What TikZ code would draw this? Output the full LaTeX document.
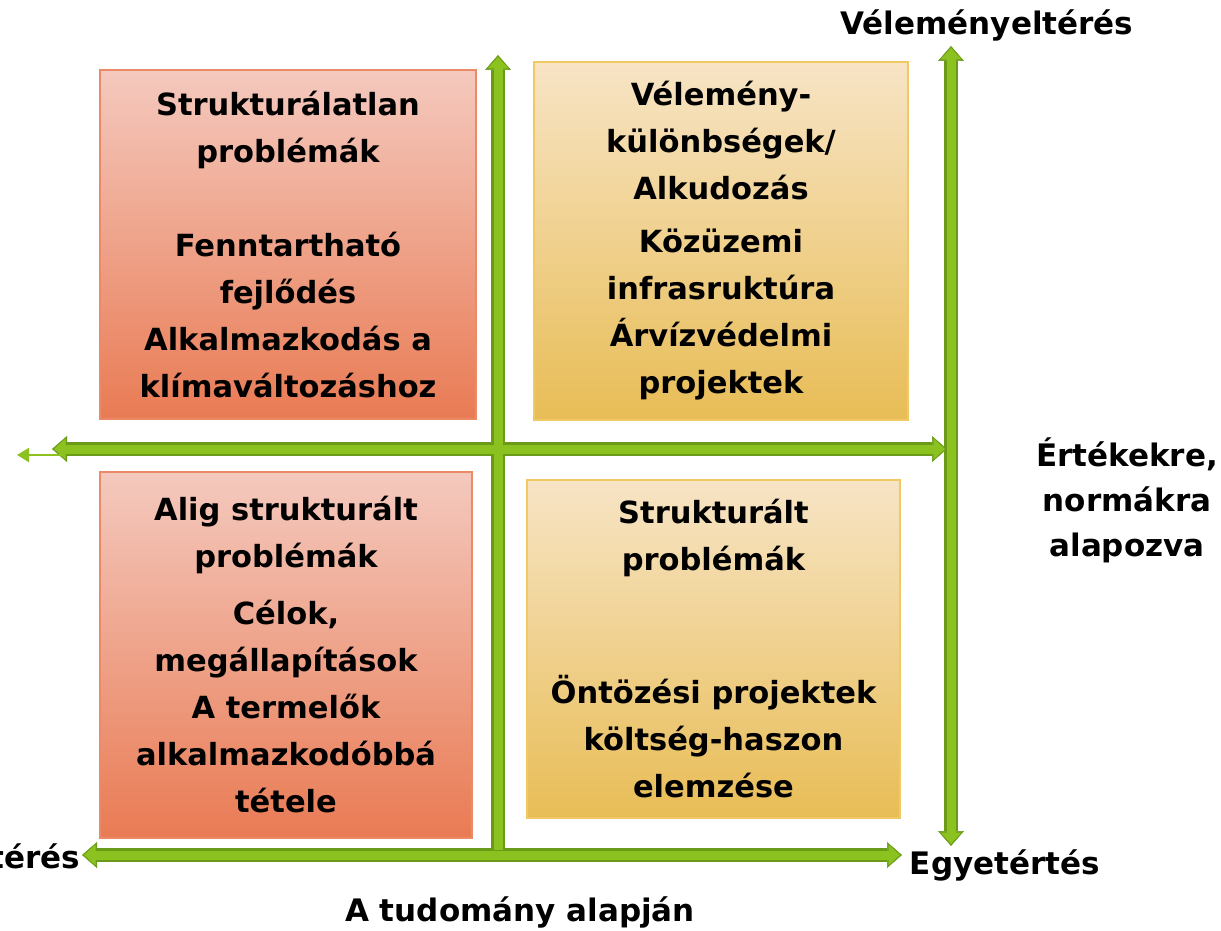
\documentclass[tikz,border=0pt]{standalone}
\usepackage{fontspec}
\setmainfont{DejaVu Sans}
\usetikzlibrary{arrows.meta}
\definecolor{redtop}{HTML}{F4C9BE}
\definecolor{redbot}{HTML}{E97B54}
\definecolor{redborder}{HTML}{EB8A66}
\definecolor{yeltop}{HTML}{F7E4C5}
\definecolor{yelbot}{HTML}{E8BD56}
\definecolor{yelborder}{HTML}{F0C963}
\definecolor{axisgreen}{HTML}{8CC21F}
\definecolor{axisdark}{HTML}{6A9A17}
\tikzset{
  box/.style={rectangle, draw=#1border, line width=1.2pt, top color=#1top, bottom color=#1bot,
    align=center, inner sep=0pt, font=\fontsize{30.5}{47}\selectfont\bfseries},
  lbl/.style={align=center, inner sep=0pt, font=\fontsize{31}{45}\selectfont\bfseries},
  tipout/.tip={Triangle[width=26pt,length=15pt,line width=0.5pt]},
  tipin/.tip={Triangle[width=20.5pt,length=11.5pt,line width=0.5pt]},
  axisdark line/.style={draw=axisdark, line width=14pt},
  axisgreen line/.style={draw=axisgreen, line width=9pt, shorten >=2pt, shorten <=2pt}
}
\begin{document}
\begin{tikzpicture}[x=1pt,y=-1pt]
  \useasboundingbox (0,0) rectangle (1221,931);
  \node[box=red, minimum width=376pt, minimum height=349pt] (tl) at (288,244.5)
    {Strukturálatlan\\problémák\\[47pt]Fenntartható\\fejlődés\\Alkalmazkodás a\\klímaváltozáshoz};
  \node[box=yel, minimum width=374pt, minimum height=358pt] (tr) at (721,241)
    {Vélemény-\\különbségek/\\Alkudozás\\[6pt]Közüzemi\\infrasruktúra\\Árvízvédelmi\\projektek};
  \node[box=red, minimum width=372pt, minimum height=366pt] (bl) at (286,655)
    {Alig strukturált\\problémák\\[10pt]Célok,\\megállapítások\\A termelők\\alkalmazkodóbbá\\tétele};
  \node[box=yel, minimum width=373pt, minimum height=338pt] (br) at (713.5,649)
    {Strukturált\\problémák\\[86pt]Öntözési projektek\\költség-haszon\\elemzése};

  \coordinate (ctop) at (498,55);
  \coordinate (cbot) at (498,852);
  \coordinate (mleft) at (52,449);
  \coordinate (mright) at (947,449);
  \coordinate (rtop) at (951,46);
  \coordinate (rbot) at (951,846);
  \coordinate (bleft) at (82,855);
  \coordinate (bright) at (902,855);
  \coordinate (thinstart) at (62,455);
  \coordinate (thin) at (17,455);

  \draw[axisdark line, -{tipout}] (cbot) -- (ctop);
  \draw[axisdark line, {tipout}-{tipout}] (mleft) -- (mright);
  \draw[axisdark line, {tipout}-{tipout}] (rtop) -- (rbot);
  \draw[axisdark line, {tipout}-{tipout}] (bleft) -- (bright);
  \draw[axisgreen line, -{tipin}] (cbot) -- (ctop);
  \draw[axisgreen line, {tipin}-{tipin}] (mleft) -- (mright);
  \draw[axisgreen line, {tipin}-{tipin}] (rtop) -- (rbot);
  \draw[axisgreen line, {tipin}-{tipin}] (bleft) -- (bright);
  \draw[axisgreen, line width=2pt, -{Triangle[width=14pt,length=12pt]}] (thinstart) -- (thin);

  \node[lbl] (vel) at (987,25) {Véleményeltérés};
  \node[lbl] (ert) at (1127,500) {Értékekre,\\normákra\\alapozva};
  \node[lbl, anchor=east] (ter) at (80,856) {térés};
  \node[lbl] (egy) at (1005,865) {Egyetértés};
  \node[lbl] (tud) at (520,912) {A tudomány alapján};
\end{tikzpicture}
\end{document}
